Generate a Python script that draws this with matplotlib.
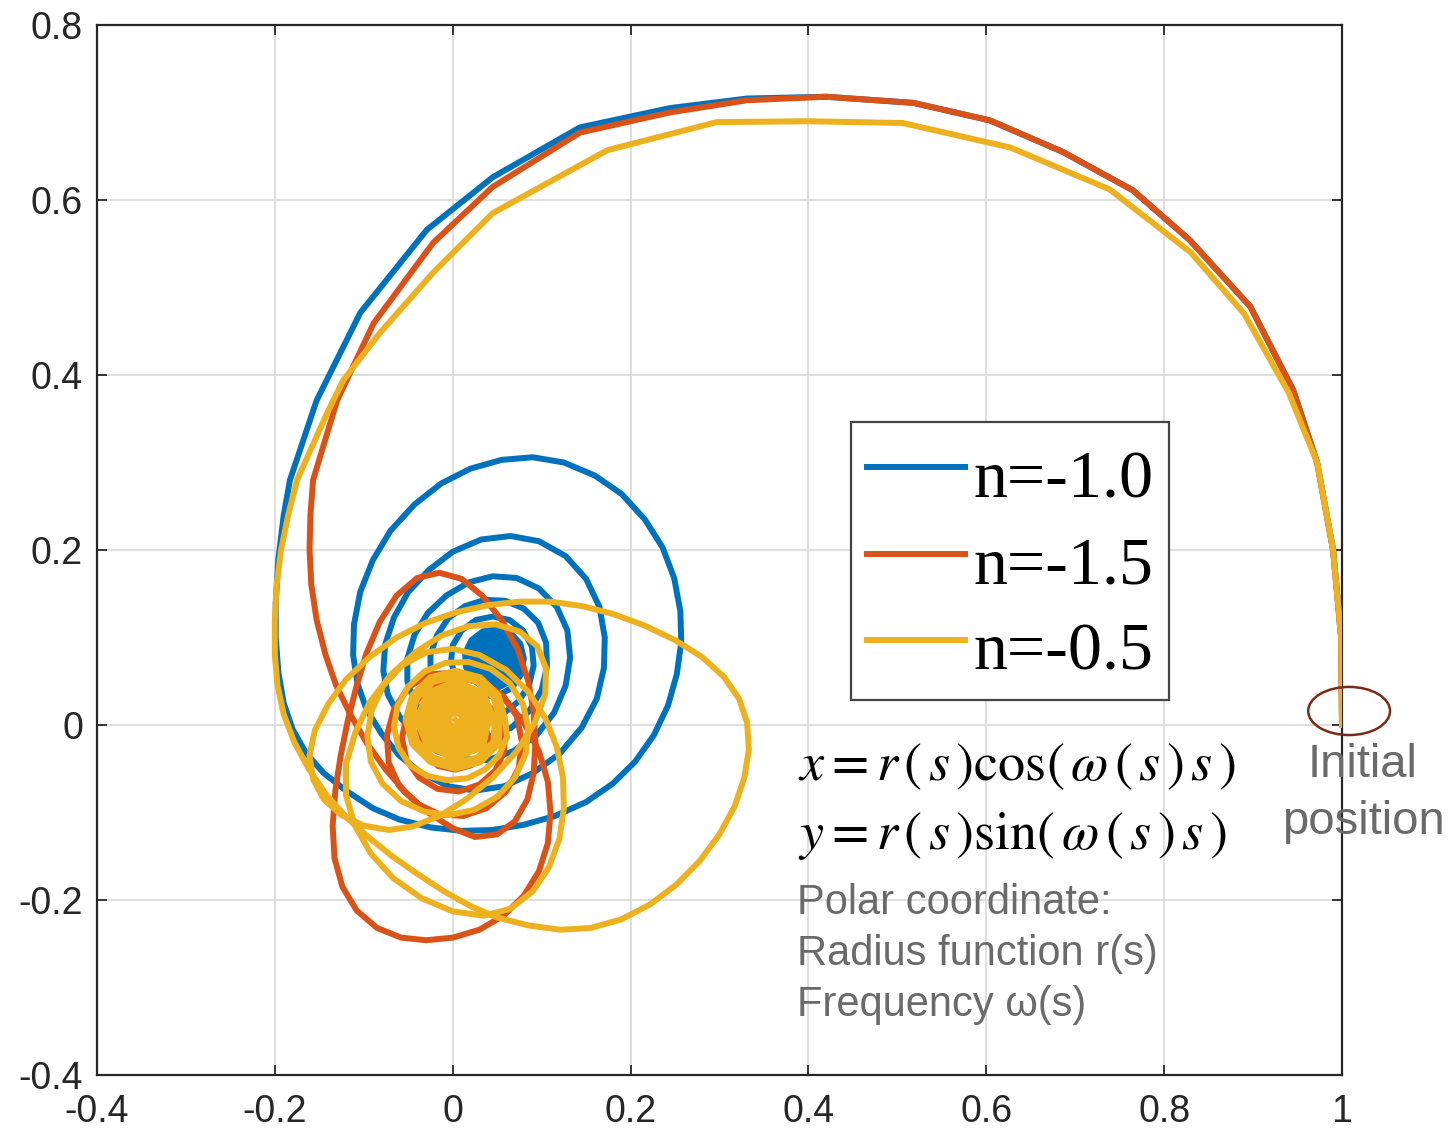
import matplotlib
matplotlib.use("Agg")
import matplotlib.pyplot as plt
from matplotlib.patches import Ellipse

plt.rcParams['axes.unicode_minus'] = False
plt.rcParams['mathtext.fontset'] = 'stix'

# ---------------- data ----------------
blue_arc = [(1.0, 0.0), (0.999, 0.1), (0.99, 0.2), (0.972, 0.3), (0.945, 0.383), (0.897, 0.478),
            (0.829, 0.554), (0.765, 0.611), (0.686, 0.655), (0.604, 0.691), (0.518, 0.711),
            (0.42, 0.718), (0.331, 0.716), (0.244, 0.705), (0.143, 0.683), (0.045, 0.626),
            (-0.029, 0.566), (-0.104, 0.471), (-0.153, 0.371), (-0.183, 0.28)]
blue_loops = [(-0.190, 0.24), (-0.196, 0.19), (-0.199, 0.14), (-0.199, 0.10), (-0.196, 0.06),
              (-0.190, 0.025), (-0.180, -0.005), (-0.165, -0.032), (-0.145, -0.055), (-0.12, -0.075),
              (-0.09, -0.095), (-0.06, -0.108), (-0.025, -0.117), (0.01, -0.121), (0.045, -0.120),
              (0.08, -0.114), (0.115, -0.104), (0.15, -0.088), (0.18, -0.067), (0.205, -0.042),
              (0.226, -0.012), (0.242, 0.022), (0.252, 0.058), (0.257, 0.095), (0.256, 0.13),
              (0.249, 0.168), (0.236, 0.203), (0.216, 0.235), (0.19, 0.264), (0.16, 0.285),
              (0.125, 0.300), (0.09, 0.306), (0.055, 0.303), (0.02, 0.293), (-0.013, 0.276),
              (-0.043, 0.252), (-0.07, 0.222), (-0.09, 0.188), (-0.104, 0.152), (-0.111, 0.115),
              (-0.112, 0.08), (-0.107, 0.047), (-0.097, 0.018), (-0.08, -0.01), (-0.06, -0.035),
              (-0.035, -0.055), (-0.005, -0.07), (0.025, -0.075), (0.058, -0.07), (0.09, -0.055),
              (0.12, -0.033), (0.145, -0.003), (0.162, 0.03), (0.17, 0.065), (0.171, 0.10),
              (0.165, 0.135), (0.15, 0.167), (0.127, 0.193), (0.097, 0.21), (0.065, 0.216),
              (0.032, 0.212), (0.0, 0.198), (-0.027, 0.177), (-0.05, 0.152), (-0.066, 0.123),
              (-0.076, 0.092), (-0.078, 0.062), (-0.073, 0.035), (-0.06, 0.01), (-0.042, -0.012),
              (-0.018, -0.03), (0.01, -0.039), (0.04, -0.04), (0.068, -0.03), (0.094, -0.012),
              (0.114, 0.014), (0.127, 0.045), (0.132, 0.077), (0.129, 0.108), (0.117, 0.135),
              (0.097, 0.156), (0.072, 0.168), (0.045, 0.170), (0.018, 0.163), (-0.007, 0.148),
              (-0.028, 0.128), (-0.043, 0.103), (-0.051, 0.076), (-0.051, 0.05), (-0.043, 0.026),
              (-0.028, 0.006), (-0.008, -0.008), (0.016, -0.014), (0.042, -0.013), (0.066, -0.003),
              (0.086, 0.016), (0.1, 0.04), (0.106, 0.067), (0.105, 0.094), (0.096, 0.117),
              (0.08, 0.133), (0.059, 0.142), (0.036, 0.143), (0.014, 0.136), (-0.005, 0.122),
              (-0.018, 0.102), (-0.025, 0.08), (-0.025, 0.057), (-0.017, 0.037), (-0.003, 0.021),
              (0.016, 0.011), (0.037, 0.008), (0.057, 0.013), (0.074, 0.027), (0.086, 0.046),
              (0.091, 0.068), (0.089, 0.09), (0.079, 0.108), (0.064, 0.12), (0.045, 0.124),
              (0.026, 0.12), (0.01, 0.108), (0.0, 0.091), (-0.002, 0.072), (0.004, 0.054),
              (0.017, 0.04), (0.034, 0.033), (0.052, 0.034), (0.067, 0.043), (0.077, 0.058),
              (0.080, 0.076), (0.076, 0.093), (0.065, 0.105), (0.05, 0.11), (0.034, 0.107),
              (0.021, 0.097), (0.014, 0.082), (0.015, 0.066), (0.022, 0.052), (0.035, 0.043),
              (0.05, 0.042), (0.063, 0.049), (0.072, 0.062), (0.075, 0.077), (0.071, 0.092),
              (0.061, 0.102), (0.047, 0.105), (0.033, 0.101), (0.023, 0.091), (0.019, 0.077),
              (0.021, 0.064), (0.029, 0.054), (0.041, 0.048), (0.054, 0.049), (0.064, 0.058),
              (0.069, 0.071), (0.068, 0.085), (0.06, 0.095), (0.047, 0.099), (0.035, 0.095),
              (0.027, 0.085), (0.025, 0.073), (0.029, 0.062), (0.039, 0.055), (0.051, 0.055),
              (0.06, 0.063), (0.064, 0.075), (0.06, 0.087), (0.05, 0.093), (0.039, 0.09),
              (0.032, 0.081), (0.032, 0.069), (0.04, 0.061), (0.051, 0.061), (0.058, 0.069),
              (0.058, 0.08), (0.051, 0.087), (0.042, 0.085), (0.037, 0.076), (0.041, 0.067),
              (0.05, 0.066), (0.054, 0.074), (0.05, 0.081), (0.043, 0.078), (0.045, 0.071),
              (0.049, 0.075)]

red_arc = [(1.0, 0.0), (0.999, 0.1), (0.99, 0.2), (0.972, 0.3), (0.945, 0.383), (0.897, 0.478),
           (0.829, 0.554), (0.765, 0.611), (0.686, 0.655), (0.604, 0.691), (0.518, 0.711),
           (0.42, 0.718), (0.331, 0.714), (0.244, 0.700), (0.143, 0.677), (0.045, 0.615),
           (-0.022, 0.551), (-0.089, 0.459), (-0.130, 0.371), (-0.157, 0.28)]
red_loops = [(-0.160, 0.24), (-0.161, 0.20), (-0.159, 0.16), (-0.153, 0.12), (-0.143, 0.08),
             (-0.131, 0.045), (-0.115, 0.012), (-0.097, -0.02), (-0.076, -0.05), (-0.053, -0.077),
             (-0.028, -0.1), (0.0, -0.118), (0.025, -0.128), (0.05, -0.125), (0.07, -0.11),
             (0.084, -0.085), (0.091, -0.055), (0.093, -0.02), (0.091, 0.015), (0.085, 0.05),
             (0.073, 0.087), (0.055, 0.12), (0.033, 0.148), (0.01, 0.167), (-0.015, 0.174),
             (-0.04, 0.168), (-0.063, 0.148), (-0.082, 0.118), (-0.097, 0.082), (-0.108, 0.045),
             (-0.118, 0.005), (-0.126, -0.035), (-0.132, -0.075), (-0.135, -0.115), (-0.133, -0.152),
             (-0.124, -0.185), (-0.108, -0.212), (-0.085, -0.232), (-0.058, -0.243), (-0.03, -0.246),
             (0.0, -0.243), (0.03, -0.234), (0.057, -0.218), (0.08, -0.195), (0.097, -0.167),
             (0.107, -0.135), (0.11, -0.1), (0.107, -0.065), (0.097, -0.03), (0.08, 0.003),
             (0.058, 0.03), (0.032, 0.05), (0.003, 0.06), (-0.025, 0.058), (-0.05, 0.043),
             (-0.066, 0.018), (-0.074, -0.012), (-0.072, -0.043), (-0.06, -0.07), (-0.04, -0.09),
             (-0.015, -0.102), (0.012, -0.104), (0.038, -0.095), (0.06, -0.076), (0.074, -0.05),
             (0.078, -0.02), (0.072, 0.01), (0.057, 0.033), (0.035, 0.048), (0.01, 0.053),
             (-0.015, 0.047), (-0.037, 0.032), (-0.052, 0.01), (-0.057, -0.015), (-0.052, -0.04),
             (-0.038, -0.06), (-0.017, -0.073), (0.007, -0.076), (0.03, -0.068), (0.048, -0.052),
             (0.058, -0.03), (0.058, -0.006), (0.049, 0.014), (0.033, 0.028), (0.013, 0.034),
             (-0.008, 0.031), (-0.025, 0.02), (-0.036, 0.003), (-0.038, -0.017), (-0.031, -0.035),
             (-0.016, -0.047), (0.003, -0.051), (0.021, -0.046), (0.035, -0.033), (0.04, -0.015),
             (0.036, 0.002), (0.024, 0.013), (0.008, 0.017), (-0.007, 0.011), (-0.016, -0.002),
             (-0.016, -0.018), (-0.006, -0.029), (0.008, -0.03), (0.018, -0.021), (0.018, -0.008),
             (0.008, -0.002), (0.0, -0.01)]

yellow_arc = [(1.0, 0.0), (0.999, 0.1), (0.99, 0.2), (0.972, 0.3), (0.94, 0.38), (0.89, 0.47),
              (0.83, 0.54), (0.739, 0.612), (0.627, 0.660), (0.506, 0.688), (0.40, 0.690),
              (0.297, 0.689), (0.174, 0.657), (0.045, 0.585), (-0.022, 0.517), (-0.082, 0.448),
              (-0.123, 0.394), (-0.141, 0.357), (-0.175, 0.28)]
yellow_loops = [(-0.185, 0.24), (-0.193, 0.20), (-0.198, 0.16), (-0.2, 0.12), (-0.2, 0.08),
                (-0.197, 0.045), (-0.19, 0.012), (-0.178, -0.02), (-0.162, -0.05), (-0.142, -0.08),
                (-0.12, -0.105), (-0.095, -0.128), (-0.068, -0.15), (-0.04, -0.17), (-0.01, -0.19),
                (0.02, -0.207), (0.05, -0.22), (0.085, -0.229), (0.121, -0.234), (0.155, -0.232),
                (0.19, -0.222), (0.222, -0.205), (0.252, -0.182), (0.278, -0.155), (0.3, -0.125),
                (0.317, -0.093), (0.328, -0.06), (0.333, -0.028), (0.331, 0.003), (0.322, 0.03),
                (0.305, 0.055), (0.28, 0.078), (0.25, 0.097), (0.215, 0.114), (0.18, 0.127),
                (0.145, 0.136), (0.11, 0.141), (0.075, 0.141), (0.04, 0.137), (0.005, 0.129),
                (-0.03, 0.117), (-0.063, 0.1), (-0.093, 0.078), (-0.12, 0.052), (-0.14, 0.024),
                (-0.155, -0.006), (-0.161, -0.035), (-0.157, -0.062), (-0.145, -0.085), (-0.125, -0.103),
                (-0.1, -0.115), (-0.072, -0.12), (-0.045, -0.116), (-0.015, -0.104), (0.015, -0.085),
                (0.045, -0.06), (0.072, -0.03), (0.092, 0.002), (0.104, 0.035), (0.105, 0.065),
                (0.095, 0.09), (0.075, 0.107), (0.048, 0.115), (0.018, 0.113), (-0.013, 0.102),
                (-0.042, 0.083), (-0.07, 0.057), (-0.094, 0.025), (-0.11, -0.01), (-0.12, -0.045),
                (-0.12, -0.08), (-0.11, -0.115), (-0.092, -0.147), (-0.067, -0.175), (-0.035, -0.198),
                (0.0, -0.213), (0.035, -0.218), (0.065, -0.21), (0.09, -0.19), (0.108, -0.163),
                (0.12, -0.13), (0.125, -0.095), (0.124, -0.06), (0.117, -0.025), (0.104, 0.008),
                (0.085, 0.038), (0.06, 0.063), (0.03, 0.08), (0.0, 0.087), (-0.03, 0.083),
                (-0.057, 0.068), (-0.078, 0.045), (-0.091, 0.017), (-0.096, -0.013), (-0.092, -0.042),
                (-0.079, -0.067), (-0.058, -0.087), (-0.032, -0.099), (-0.004, -0.103), (0.024, -0.097),
                (0.05, -0.082), (0.07, -0.06), (0.082, -0.033), (0.085, -0.004), (0.079, 0.024),
                (0.064, 0.048), (0.043, 0.064), (0.018, 0.072), (-0.008, 0.071), (-0.032, 0.061),
                (-0.05, 0.044), (-0.062, 0.022), (-0.066, -0.002), (-0.061, -0.026), (-0.048, -0.046),
                (-0.029, -0.058), (-0.007, -0.063), (0.016, -0.061), (0.036, -0.051), (0.052, -0.035),
                (0.061, -0.014),
                (0.059, 0.006), (0.0515, 0.034), (0.031, 0.0545), (0.003, 0.062), (-0.025, 0.0545),
                (-0.0455, 0.034), (-0.053, 0.006), (-0.0455, -0.022), (-0.025, -0.0425), (0.003, -0.050),
                (0.031, -0.0425), (0.0515, -0.022),
                (0.053, 0.006), (0.046, 0.031), (0.028, 0.049), (0.003, 0.056), (-0.022, 0.049),
                (-0.040, 0.031), (-0.047, 0.006), (-0.040, -0.019), (-0.022, -0.037), (0.003, -0.044),
                (0.028, -0.037), (0.046, -0.019),
                (0.047, 0.006), (0.034, 0.037), (0.003, 0.050), (-0.028, 0.037), (-0.041, 0.006),
                (-0.028, -0.025), (0.003, -0.038), (0.034, -0.025),
                (0.041, 0.006), (0.030, 0.033), (0.003, 0.044), (-0.024, 0.033), (-0.035, 0.006),
                (-0.024, -0.021), (0.003, -0.032), (0.030, -0.021),
                (0.035, 0.006), (0.026, 0.029), (0.003, 0.038), (-0.020, 0.029), (-0.029, 0.006),
                (-0.020, -0.017), (0.003, -0.026), (0.026, -0.017),
                (0.029, 0.006), (0.021, 0.024), (0.003, 0.032), (-0.015, 0.024), (-0.023, 0.006),
                (-0.015, -0.012), (0.003, -0.020), (0.021, -0.012),
                (0.023, 0.006), (0.017, 0.020), (0.003, 0.026), (-0.011, 0.020), (-0.017, 0.006),
                (-0.011, -0.008), (0.003, -0.014), (0.017, -0.008),
                (0.017, 0.006), (0.013, 0.016), (0.003, 0.020), (-0.007, 0.016), (-0.011, 0.006),
                (-0.007, -0.004), (0.003, -0.008), (0.013, -0.004),
                (0.011, 0.006), (0.009, 0.012), (0.003, 0.014), (-0.003, 0.012), (-0.005, 0.006),
                (-0.003, 0.0), (0.003, -0.002), (0.009, 0.0), (0.003, 0.006)]

series_labels = ['n=-1.0', 'n=-1.5', 'n=-0.5']
series_colors = ['#0072BD', '#D95319', '#EDB120']

x_ticks = [-0.4, -0.2, 0, 0.2, 0.4, 0.6, 0.8, 1]
x_tick_labels = ['-0.4', '-0.2', '0', '0.2', '0.4', '0.6', '0.8', '1']
y_ticks = [-0.4, -0.2, 0, 0.2, 0.4, 0.6, 0.8]
y_tick_labels = ['-0.4', '-0.2', '0', '0.2', '0.4', '0.6', '0.8']

# ---------------- figure ----------------
W, H = 1451, 1139
fig = plt.figure(figsize=(W / 100, H / 100), dpi=100)
ax = fig.add_axes([97 / W, 1 - 1075 / H, (1342 - 97) / W, (1075 - 25) / H])

series = [blue_arc + blue_loops, red_arc + red_loops, yellow_arc + yellow_loops]
for pts, lab, col in zip(series, series_labels, series_colors):
    xs = [p[0] for p in pts]
    ys = [p[1] for p in pts]
    ax.plot(xs, ys, color=col, lw=4.3, label=lab, solid_joinstyle='round', zorder=3)

ax.set_xlim(-0.4, 1.0)
ax.set_ylim(-0.4, 0.8)
ax.set_xticks(x_ticks)
ax.set_xticklabels(x_tick_labels)
ax.set_yticks(y_ticks)
ax.set_yticklabels(y_tick_labels)
ax.grid(True, color='#dcdcdc', lw=1.3, zorder=0)
ax.set_axisbelow(True)
for sp in ax.spines.values():
    sp.set_color('#262626')
    sp.set_linewidth(1.6)
ax.tick_params(direction='in', length=7, width=1.3, color='#262626', top=True, right=True,
               labelsize=27, labelcolor='#262626')
ax.tick_params(axis='x', pad=14)
ax.tick_params(axis='y', pad=10)
for lbl in ax.get_xticklabels() + ax.get_yticklabels():
    lbl.set_fontfamily('Liberation Sans')

leg = ax.legend(loc='upper left', bbox_to_anchor=((851 - 97) / 1245, (1075 - 422) / 1050),
                borderaxespad=0, prop={'family': 'Liberation Serif', 'size': 49},
                handlelength=1.45, handletextpad=0.12, borderpad=0.23, labelspacing=0.19,
                handleheight=1.28, fancybox=False, framealpha=1, edgecolor='#444444')
leg.get_frame().set_linewidth(1.6)
for l in leg.get_lines():
    l.set_linewidth(4.3)

# Initial position marker
ell = Ellipse((1.008, 0.016), 0.092, 0.055, fill=False, edgecolor='#7B2A17', lw=1.8,
              clip_on=False, zorder=5)
ax.add_patch(ell)

gray = '#6a6a6a'
fig.text(1363 / W, 1 - 765 / H, 'Initial', ha='center', va='center', fontsize=34,
         color=gray, family='Liberation Sans')
fig.text(1363 / W, 1 - 822 / H, 'position', ha='center', va='center', fontsize=34,
         color=gray, family='Liberation Sans')

fig.text(798 / W, 1 - 766 / H, r'$x=r\,(\,s\,)\cos(\,\omega\,(\,s\,)\,s\,)$', ha='left',
         va='center', fontsize=39, color='black')
fig.text(798 / W, 1 - 836 / H, r'$y=r\,(\,s\,)\sin(\,\omega\,(\,s\,)\,s\,)$', ha='left',
         va='center', fontsize=39, color='black')

for i, t in enumerate(['Polar coordinate:', 'Radius function r(s)', 'Frequency \u03c9(s)']):
    fig.text(797 / W, 1 - (903 + 51 * i) / H, t, ha='left', va='center', fontsize=30,
             color=gray, family='Liberation Sans')

fig.savefig('out.png', dpi=100)
